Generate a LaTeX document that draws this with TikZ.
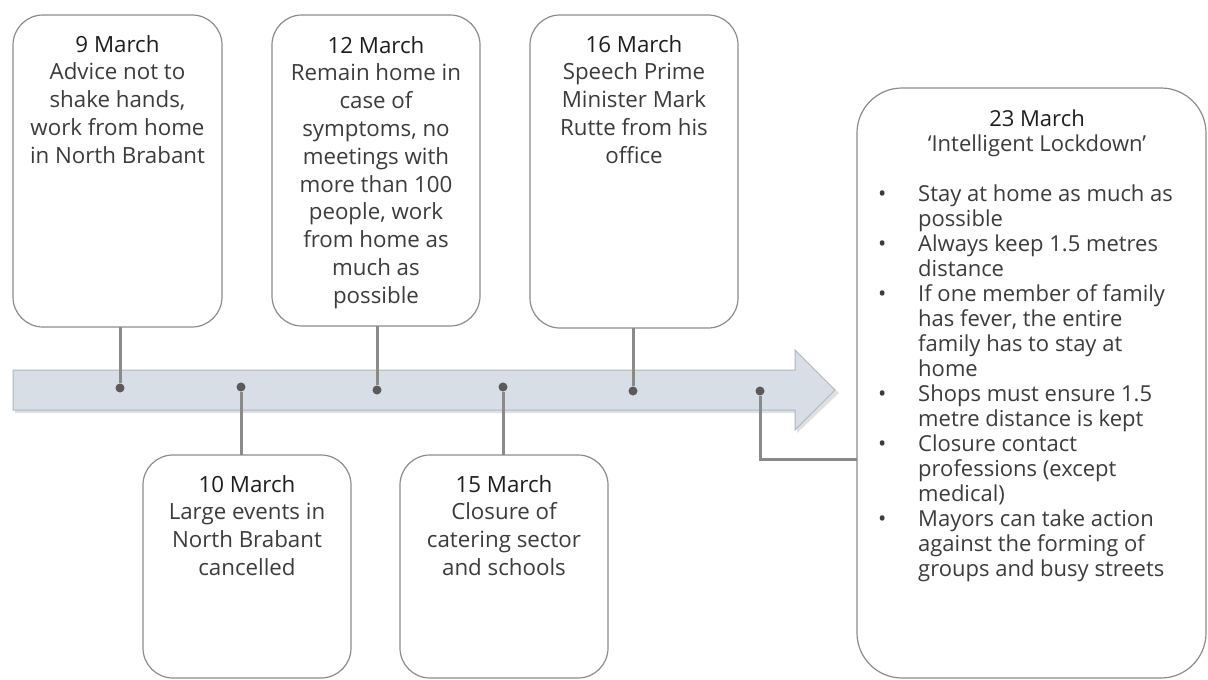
\documentclass[tikz,border=0pt]{standalone}
\usepackage{fontspec}
\setmainfont{Open Sans}
\definecolor{boxgray}{HTML}{8C8C8C}
\definecolor{linegray}{HTML}{8A8A8A}
\definecolor{dotgray}{HTML}{5A5A5A}
\definecolor{arrowfill}{HTML}{D7DEE5}
\definecolor{arrowdraw}{HTML}{AEB6BE}
\definecolor{txt}{HTML}{3C3C3C}
\definecolor{ttl}{HTML}{1E1E1E}
\begin{document}
\begin{tikzpicture}[x=1pt,y=-1pt,
  evbox/.style={draw=boxgray, line width=1.2pt, rounded corners=30pt, fill=white, inner sep=0pt, outer sep=0pt},
  evtext/.style={anchor=north, align=center, inner sep=0pt, text=txt, font=\fontsize{22.3}{27.8}\selectfont},
  conn/.style={draw=linegray, line width=3pt},
  dotnode/.style={circle, fill=dotgray, minimum size=9pt, inner sep=0pt}
]
\useasboundingbox (0,0) rectangle (1208,680);
% timeline arrow
\path[fill=black!12] (15,373) -- (797,373) -- (797,353) -- (839,393) -- (797,433) -- (797,413) -- (15,413) -- cycle;
\path[fill=arrowfill, draw=arrowdraw, line width=1pt] (13,370) -- (795,370) -- (795,350) -- (835,390) -- (795,430) -- (795,410) -- (13,410) -- cycle;
% boxes
\node[evbox, minimum width=209pt, minimum height=312pt] (b1) at (117.5,171) {};
\node[evbox, minimum width=208pt, minimum height=311pt] (b3) at (376,170.5) {};
\node[evbox, minimum width=208pt, minimum height=313pt] (b5) at (634,171.5) {};
\node[evbox, minimum width=208pt, minimum height=223pt] (b2) at (247,566.5) {};
\node[evbox, minimum width=208pt, minimum height=223pt] (b4) at (504,566.5) {};
\node[evbox, rounded corners=45pt, minimum width=349pt, minimum height=590pt] (b6) at (1031.5,383) {};
% texts
\node[evtext] (t1) at (117.5,35) {\textcolor{ttl}{9 March}\\Advice not to\\shake hands,\\work from home\\in North Brabant};
\node[evtext] (t3) at (376,36) {\textcolor{ttl}{12 March}\\Remain home in\\case of\\symptoms, no\\meetings with\\more than 100\\people, work\\from home as\\much as\\possible};
\node[evtext] (t5) at (634,35) {\textcolor{ttl}{16 March}\\Speech Prime\\Minister Mark\\Rutte from his\\office};
\node[evtext] (t2) at (247,475) {\textcolor{ttl}{10 March}\\Large events in\\North Brabant\\cancelled};
\node[evtext] (t4) at (504,475) {\textcolor{ttl}{15 March}\\Closure of\\catering sector\\and schools};
\node[evtext, font=\fontsize{22}{25}\selectfont] (t6h) at (1037,110) {\textcolor{ttl}{23 March}\\`Intelligent Lockdown'};
\node[anchor=north west, align=left, inner sep=0pt, text=txt, font=\fontsize{22}{25}\selectfont] (t6b) at (878,185) {%
\makebox[40pt][l]{\textbullet}Stay at home as much as\\
\hspace*{40pt}possible\\
\makebox[40pt][l]{\textbullet}Always keep 1.5 metres\\
\hspace*{40pt}distance\\
\makebox[40pt][l]{\textbullet}If one member of family\\
\hspace*{40pt}has fever, the entire\\
\hspace*{40pt}family has to stay at\\
\hspace*{40pt}home\\
\makebox[40pt][l]{\textbullet}Shops must ensure 1.5\\
\hspace*{40pt}metre distance is kept\\
\makebox[40pt][l]{\textbullet}Closure contact\\
\hspace*{40pt}professions (except\\
\hspace*{40pt}medical)\\
\makebox[40pt][l]{\textbullet}Mayors can take action\\
\hspace*{40pt}against the forming of\\
\hspace*{40pt}groups and busy streets};
% dots
\node[dotnode] (d1) at (120,388) {};
\node[dotnode] (d2) at (241,387) {};
\node[dotnode] (d3) at (377,390) {};
\node[dotnode] (d4) at (503,387) {};
\node[dotnode] (d5) at (633,391) {};
\node[dotnode] (d6) at (760,391) {};
\coordinate (c6) at (760,459);
% connectors
\draw[conn] (d1) -- (d1 |- b1.south);
\draw[conn] (d2) -- (d2 |- b2.north);
\draw[conn] (d3) -- (d3 |- b3.south);
\draw[conn] (d4) -- (d4 |- b4.north);
\draw[conn] (d5) -- (d5 |- b5.south);
\draw[conn] (d6) -- (c6) -- (c6 -| b6.west);
\end{tikzpicture}
\end{document}
